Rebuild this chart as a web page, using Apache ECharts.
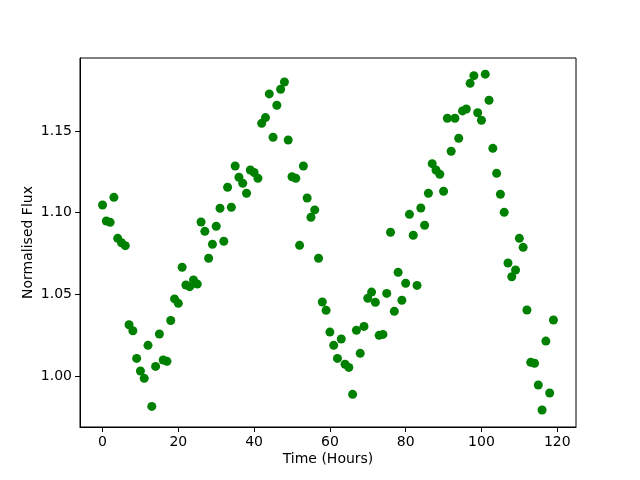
<!DOCTYPE html>
<html>
<head>
<meta charset="utf-8">
<script src="https://cdn.jsdelivr.net/npm/echarts@6/dist/echarts.min.js"></script>
<style>
  html, body { margin: 0; padding: 0; background: #fff; }
  #chart { width: 640px; height: 480px; }
</style>
</head>
<body>
<div id="chart"></div>
<script>
// hours 0..119, one reading per hour
var hours = []
for (var i = 0; i < 120; i++) hours.push(i)

var flux = [
  1.1047, 1.0949, 1.0941, 1.1094, 1.0843, 1.0816, 1.0798, 1.0314, 1.0277, 1.0108,
  1.0031, 0.9986, 1.0188, 0.9814, 1.0059, 1.0257, 1.0098, 1.0090, 1.0340, 1.0472,
  1.0445, 1.0666, 1.0557, 1.0547, 1.0588, 1.0563, 1.0943, 1.0886, 1.0721, 1.0807,
  1.0917, 1.1027, 1.0825, 1.1156, 1.1033, 1.1286, 1.1217, 1.1180, 1.1119, 1.1261,
  1.1246, 1.1211, 1.1547, 1.1582, 1.1727, 1.1462, 1.1658, 1.1756, 1.1800, 1.1445,
  1.1220, 1.1211, 1.0800, 1.1286, 1.1090, 1.0972, 1.1017, 1.0721, 1.0453, 1.0402,
  1.0269, 1.0188, 1.0108, 1.0227, 1.0072, 1.0053, 0.9888, 1.0280, 1.0139, 1.0304,
  1.0476, 1.0514, 1.0451, 1.0249, 1.0255, 1.0506, 1.0880, 1.0396, 1.0635, 1.0464,
  1.0568, 1.0990, 1.0862, 1.0555, 1.1029, 1.0923, 1.1119, 1.1300, 1.1261, 1.1235,
  1.1131, 1.1578, 1.1376, 1.1578, 1.1456, 1.1623, 1.1635, 1.1792, 1.1839, 1.1612,
  1.1566, 1.1848, 1.1688, 1.1394, 1.1241, 1.1113, 1.1002, 1.0692, 1.0608, 1.0649,
  1.0843, 1.0788, 1.0404, 1.0084, 1.0078, 0.9945, 0.9792, 1.0214, 0.9896, 1.0343
]

var xTicks = [0, 20, 40, 60, 80, 100, 120]
var yTicks = [1.00, 1.05, 1.10, 1.15]

var points = []
for (var j = 0; j < hours.length; j++) {
  points.push([hours[j], flux[j]])
}

var font = 'DejaVu Sans'
var myChart = echarts.init(document.getElementById('chart'))
myChart.setOption({
  animation: false,
  textStyle: { fontFamily: font },
  grid: {
    left: 80,
    right: 64,
    top: 58,
    bottom: 53,
    show: true,
    borderColor: '#000',
    borderWidth: 1
  },
  xAxis: {
    type: 'value',
    min: -5.95,
    max: 124.95,
    name: 'Time (Hours)',
    nameLocation: 'middle',
    nameGap: 25,
    nameMoveOverlap: false,
    nameTextStyle: { color: '#000', fontSize: 14, fontFamily: font },
    axisLine: { onZero: false, lineStyle: { color: '#000' } },
    axisTick: { show: true, length: 5, customValues: xTicks, lineStyle: { color: '#000' } },
    axisLabel: {
      customValues: xTicks,
      color: '#000',
      fontSize: 14,
      fontFamily: font,
      margin: 8
    },
    splitLine: { show: false }
  },
  yAxis: {
    type: 'value',
    min: 0.9688,
    max: 1.1947,
    name: 'Normalised Flux',
    nameLocation: 'middle',
    nameGap: 45,
    nameMoveOverlap: false,
    nameTextStyle: { color: '#000', fontSize: 14, fontFamily: font },
    axisLine: { show: true, onZero: false, lineStyle: { color: '#000' } },
    axisTick: { show: true, length: 5, customValues: yTicks, lineStyle: { color: '#000' } },
    axisLabel: {
      customValues: yTicks,
      color: '#000',
      fontSize: 14,
      fontFamily: font,
      margin: 8,
      formatter: function (v) { return v.toFixed(2) }
    },
    splitLine: { show: false }
  },
  series: [
    {
      type: 'scatter',
      data: points,
      symbol: 'circle',
      symbolSize: 9,
      itemStyle: { color: '#008000', opacity: 1 }
    }
  ]
})
</script>
</body>
</html>
